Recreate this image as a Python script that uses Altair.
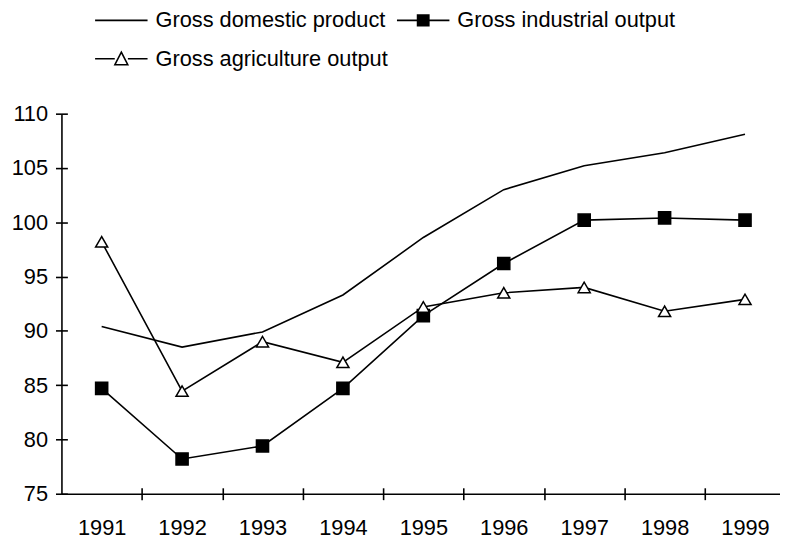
import altair as alt
import pandas as pd

years = [1991, 1992, 1993, 1994, 1995, 1996, 1997, 1998, 1999]
gdp = [90.4, 88.5, 89.9, 93.3, 98.6, 103.0, 105.2, 106.4, 108.1]
industrial = [84.7, 78.2, 79.4, 84.7, 91.4, 96.2, 100.2, 100.4, 100.2]
agriculture = [98.2, 84.45, 89.0, 87.1, 92.2, 93.5, 94.0, 91.8, 92.9]
series_names = ["Gross domestic product", "Gross industrial output", "Gross agriculture output"]
y_ticks = [75, 80, 85, 90, 95, 100, 105, 110]

rows = []
for name, vals in zip(series_names, [gdp, industrial, agriculture]):
    for y, v in zip(years, vals):
        rows.append({"year": y, "value": v, "series": name})
df = pd.DataFrame(rows)

FONT = "Liberation Sans"
W, H = 726, 384
half_band = W / (1999.435 - 1990.5) / 2

xscale = alt.Scale(domain=[1990.5, 1999.435], nice=False, zero=False)
yscale = alt.Scale(domain=[75, 110], nice=False, zero=False)

# legend glyphs: line, line + solid square (drawn with strokes), line + open triangle
hatch = "".join(f"M-0.215,{y/100:.2f}H0.215" for y in range(-20, 21, 5))
legend_paths = [
    "M-1,0H1",
    "M-1,0H-0.215M0.215,0H1M-0.215,-0.2H0.215V0.2H-0.215Z" + hatch,
    "M-1,0H-0.25M0.25,0H1M0,-0.25L0.245,0.226H-0.245Z",
]

lines = alt.Chart(df).mark_line(color="black", strokeWidth=1.6).encode(
    x=alt.X("year:Q", scale=xscale, title=None,
            axis=alt.Axis(values=years, format="d", ticks=False, labelPadding=24,
                          grid=False, domainColor="black", domainWidth=1.6,
                          labelFont=FONT, labelFontSize=22, labelColor="black",
                          labelOverlap=False, labelFlush=False)),
    y=alt.Y("value:Q", scale=yscale, title=None,
            axis=alt.Axis(values=y_ticks, tickSize=6,
                          labelPadding=8, grid=False, domainColor="black",
                          tickColor="black", domainWidth=1.6, tickWidth=1.6,
                          labelFont=FONT, labelFontSize=22, labelColor="black",
                          labelOverlap=False, labelFlush=False)),
    detail="series:N",
)

points = alt.Chart(df).transform_filter(
    alt.datum.series != "Gross domestic product"
).mark_point(stroke="black", strokeWidth=1.5, opacity=1, size=150, fillOpacity=1).encode(
    x=alt.X("year:Q", scale=xscale, title=None,
            axis=alt.Axis(orient="top", offset=-H, values=years, tickOffset=half_band,
                          tickSize=6, labels=False, domain=False, grid=False,
                          tickColor="black", tickWidth=1.6)),
    y=alt.Y("value:Q", scale=yscale, title=None,
            axis=alt.Axis(orient="right", offset=-W, values=y_ticks,
                          tickSize=6, labels=False, domain=False, grid=False,
                          tickColor="black", tickWidth=1.6)),
    shape=alt.Shape("series:N",
                    scale=alt.Scale(domain=series_names, range=["circle", "square", "triangle-up"]),
                    legend=None),
    fill=alt.Fill("series:N",
                  scale=alt.Scale(domain=series_names, range=["black", "black", "white"]),
                  legend=None),
)

legend_layer = alt.Chart(df).transform_filter("false").mark_point(
    color="black", filled=False, strokeWidth=1.6, opacity=1, size=2809
).encode(
    x=alt.X("year:Q", scale=xscale, title=None,
            axis=alt.Axis(orient="bottom", values=years, tickOffset=half_band,
                          tickSize=6, labels=False, domain=False, grid=False,
                          tickColor="black", tickWidth=1.6)),
    y=alt.Y("value:Q", scale=yscale, axis=None),
    shape=alt.Shape("series:N",
                    scale=alt.Scale(domain=series_names, range=legend_paths),
                    legend=alt.Legend(title=None, orient="none", legendX=33, legendY=-122,
                                      direction="horizontal",
                                      columns=2, columnPadding=5, rowPadding=0,
                                      symbolSize=2809, labelOffset=7,
                                      labelFont=FONT, labelFontSize=22, labelColor="black",
                                      labelLimit=400, padding=0,
                                      symbolStrokeColor="black", symbolStrokeWidth=1.6,
                                      symbolFillColor="transparent", symbolOpacity=1)),
)

chart = alt.layer(lines, points, legend_layer).resolve_axis(
    x="independent", y="independent"
).resolve_scale(shape="independent", fill="independent").properties(
    width=W, height=H,
    autosize=alt.AutoSizeParams(type="none"),
    padding={"left": 54, "top": 104, "right": 0, "bottom": 46},
    background="white",
).configure_view(stroke=None)

chart.save("out.html", embed_options={"renderer": "svg", "actions": False})
